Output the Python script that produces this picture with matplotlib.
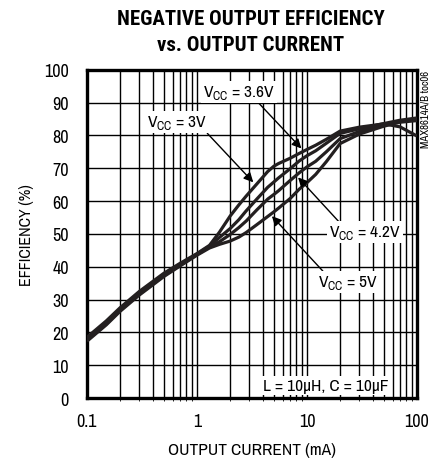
import numpy as np
import matplotlib.pyplot as plt

plt.rcParams['font.family'] = ['Archivo Narrow', 'Roboto Condensed', 'DejaVu Sans']
plt.rcParams['mathtext.fontset'] = 'custom'
plt.rcParams['mathtext.rm'] = 'Archivo Narrow'

# output current (mA) and efficiency (%) for each supply voltage
current = [0.1, 0.15, 0.2, 0.3, 0.5, 0.7, 1.0, 1.3, 1.6, 2.0, 2.4, 2.8, 3.5, 4.4, 5.0,
           5.5, 7.0, 8.5, 10, 12, 15, 20, 30, 50, 70, 100]
eff_3v0 = [18.5, 23.5, 27.5, 32.5, 38.0, 41.0, 44.0, 46.5, 50.5, 55.4, 58.8, 61.5, 65.2, 69.0, 70.6,
           71.4, 73.0, 74.5, 75.7, 77.0, 78.8, 81.3, 82.5, 83.5, 82.6, 79.8]
eff_3v6 = [18.0, 23.0, 27.0, 32.0, 37.6, 40.6, 43.8, 46.3, 48.9, 51.6, 54.3, 57.0, 60.6, 64.2, 65.8,
           67.0, 69.8, 72.2, 73.8, 75.3, 77.6, 80.6, 82.0, 83.6, 84.6, 85.3]
eff_4v2 = [17.6, 22.6, 26.7, 31.7, 37.3, 40.4, 43.7, 46.0, 47.6, 49.8, 51.9, 53.9, 57.3, 60.6, 62.0,
           63.1, 66.2, 68.6, 70.4, 72.1, 75.0, 79.0, 81.2, 83.2, 84.3, 85.0]
eff_5v0 = [17.3, 22.3, 26.4, 31.4, 37.0, 40.2, 43.5, 45.7, 46.8, 47.8, 49.0, 50.4, 52.8, 55.3, 56.7,
           57.8, 60.7, 63.6, 65.6, 68.1, 72.0, 77.5, 80.4, 82.8, 84.0, 84.5]

xticks = [0.1, 1, 10, 100]
xtick_labels = ['0.1', '1', '10', '100']
yticks = np.arange(0, 101, 10)

ink = '#231f20'

fig = plt.figure(figsize=(4.38, 4.60), dpi=100)
ax = fig.add_axes([0.1986, 0.1326, 0.7534, 0.7137])

for eff in (eff_3v0, eff_3v6, eff_4v2, eff_5v0):
    ax.plot(current, eff, color=ink, lw=2.3, solid_capstyle='butt', zorder=3)

ax.set_xscale('log')
ax.set_xlim(0.1, 100)
ax.set_ylim(0, 100)
ax.set_xticks(xticks)
ax.set_xticklabels(xtick_labels)
ax.set_yticks(yticks)
ax.tick_params(length=0, labelsize=13, colors='black')
ax.tick_params(axis='x', pad=11)
ax.tick_params(axis='y', pad=13)
ax.grid(True, which='both', axis='x', color='black', lw=1.0)
ax.grid(True, which='major', axis='y', color='black', lw=1.0)
for s in ax.spines.values():
    s.set_linewidth(2.4)

ax.set_xlabel('OUTPUT CURRENT (mA)', fontsize=12.5, labelpad=9)
ax.set_ylabel('EFFICIENCY (%)', fontsize=11.5, labelpad=7)

title_font = dict(family='Roboto Condensed', fontsize=15, fontweight='bold')
fig.text(0.572, 0.957, 'NEGATIVE OUTPUT EFFICIENCY', ha='center', va='center', **title_font)
fig.text(0.572, 0.902, 'vs. OUTPUT CURRENT', ha='center', va='center', **title_font)
fig.text(0.971, 0.846, 'MAX8614A/B toc06', rotation=90, ha='center', va='top', fontsize=7.8)

box = dict(facecolor='white', edgecolor='none', pad=1.5)


def arrow(rel):
    return dict(arrowstyle='-|>', color='black', lw=1.0, mutation_scale=14,
                shrinkA=0, shrinkB=0, relpos=rel)


ax.annotate(r'V$_{\mathregular{CC}}$ = 3.6V', xy=(8.9, 76.0), xytext=(2.4, 93.2),
            ha='center', va='center', fontsize=12.5, bbox=box, arrowprops=arrow((0.75, 0.0)), zorder=5)
ax.annotate(r'V$_{\mathregular{CC}}$ = 3V', xy=(3.25, 65.7), xytext=(0.66, 84.0),
            ha='center', va='center', fontsize=12.5, bbox=box, arrowprops=arrow((0.97, 0.0)), zorder=5)
ax.annotate(r'V$_{\mathregular{CC}}$ = 4.2V', xy=(8.3, 67.2), xytext=(34.0, 50.5),
            ha='center', va='center', fontsize=12.5, bbox=box, arrowprops=arrow((0.15, 1.0)), zorder=5)
ax.annotate(r'V$_{\mathregular{CC}}$ = 5V', xy=(4.8, 55.4), xytext=(23.4, 35.3),
            ha='center', va='center', fontsize=12.5, bbox=box, arrowprops=arrow((0.12, 1.0)), zorder=5)
ax.text(14.7, 3.8, 'L = 10\u00b5H, C = 10\u00b5F', ha='center', va='center',
        fontsize=12.5, bbox=box, zorder=5)

fig.savefig('out.png', dpi=100)
